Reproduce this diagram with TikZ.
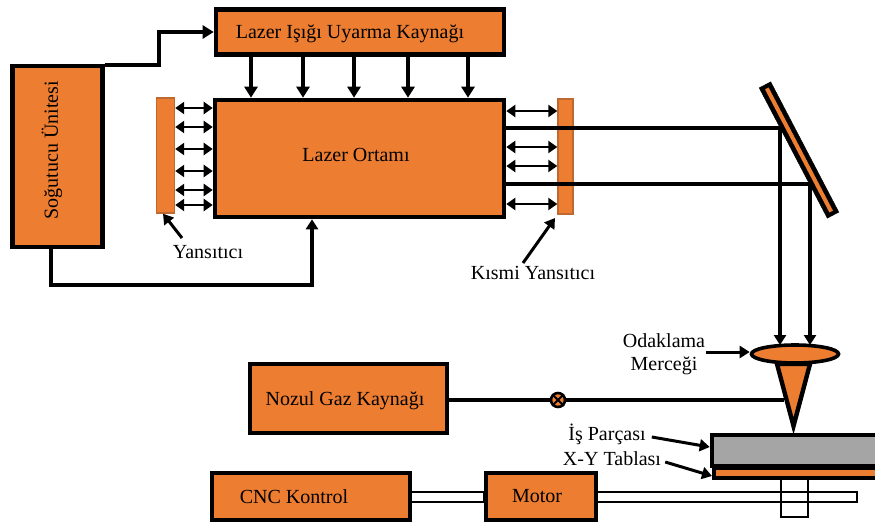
\documentclass[tikz,border=0pt]{standalone}
\usepackage{fontspec}
\setmainfont{Liberation Serif}
\definecolor{lazerturuncu}{RGB}{237,125,49}
\definecolor{aynakenar}{RGB}{190,105,50}
\definecolor{parcagri}{RGB}{165,165,165}
\usetikzlibrary{arrows.meta,positioning,shapes.geometric,calc}
\tikzset{
  yazi/.style={font=\fontsize{20}{23}\selectfont,inner sep=1pt,align=center},
  kutu/.style={draw=black,fill=lazerturuncu,line width=4.6pt,inner sep=0pt,yazi},
  ayna/.style={draw=aynakenar,fill=lazerturuncu,line width=1.4pt,inner sep=0pt},
  kalinok/.style={line width=4pt,-{Triangle[length=11pt,width=13pt]}},
  cifok/.style={line width=2.3pt,{Triangle[length=9pt,width=12pt]}-{Triangle[length=9pt,width=12pt]}},
  isin/.style={line width=3.15pt},
  ok/.style={line width=3pt,-{Triangle[length=10pt,width=12pt]}},
  mil/.style={draw=black,line width=2pt}
}
\begin{document}
\begin{tikzpicture}[x=1pt,y=-1pt]
  \clip (0,0) rectangle (875,523);
  % kutular
  \node[kutu,minimum width=90pt,minimum height=181pt] (sogutucu) at (57.5,156.5) {};
  \node[yazi,rotate=90] (sogutucuyazi) at (52,150) {Soğutucu Ünitesi};
  \node[kutu,minimum width=288pt,minimum height=45pt,text depth=0pt] (kaynak) at (360,32) {Lazer Işığı Uyarma Kaynağı\hspace*{20pt}};
  \node[kutu,minimum width=289pt,minimum height=117pt,text depth=7pt] (ortam) at (359.5,158.5) {Lazer Ortamı\hspace*{7pt}};
  \node[kutu,minimum width=197pt,minimum height=69pt,text depth=0pt] (nozul) at (348.5,398.5) {Nozul Gaz Kaynağı\hspace*{7pt}};
  \node[ayna,minimum width=18pt,minimum height=115pt] (solayna) at (165.5,155.5) {};
  \node[ayna,minimum width=15pt,minimum height=115pt] (sagayna) at (565.5,156.5) {};
  % mil
  \node[mil,fill=white,minimum width=261pt,minimum height=10pt] (motormil) at (726.5,497) {};
  \node[mil,minimum width=27pt,minimum height=38pt] (dikmil) at (794.5,498) {};
  \node[mil,fill=white,minimum width=74pt,minimum height=10pt] (cncmil) at (447,497) {};
  \node[kutu,minimum width=198pt,minimum height=47pt] (cnc) at (311,496.5) {CNC Kontrol\hspace*{34pt}};
  \node[kutu,minimum width=110pt,minimum height=47pt] (motor) at (541,496.5) {Motor\hspace*{8pt}};
  % is parcasi ve tabla
  \node[draw=black,fill=parcagri,line width=4.6pt,minimum width=178pt,minimum height=31pt] (parca) at (801,450.5) {};
  \node[draw=black,fill=lazerturuncu,line width=4pt,minimum width=172pt,minimum height=10pt] (tabla) at (800,473) {};
  % uyarma oklari
  \foreach \px in {251,303,354,408,468}
    \draw[kalinok] (kaynak.south -| \px,0) -- (ortam.north -| \px,0);
  \coordinate (kirilma) at (159,65);
  \draw[line width=3.4pt,-{Triangle[length=11pt,width=13pt]},line join=miter] (sogutucu.north east |- kirilma) -- (kirilma) -- (kirilma |- kaynak.west) -- (kaynak.west);
  \coordinate (altkose) at (51,285);
  \draw[isin,-{Triangle[length=10pt,width=12pt]}] (sogutucu.south -| altkose) -- (altkose) -- (altkose -| 312,0) -- (ortam.south -| 312,0);
  % ayna oklari
  \foreach \py in {108,127,149,171,190,205}
    \draw[cifok] (solayna.east |- 0,\py) -- (ortam.west |- 0,\py);
  \foreach \py in {111,147,166,204}
    \draw[cifok] (ortam.east |- 0,\py) -- (sagayna.west |- 0,\py);
  % lazer isini
  \coordinate (yansima1) at (780,128);
  \coordinate (yansima2) at (810,184);
  \draw[isin] (ortam.east |- yansima1) -- (yansima1);
  \draw[isin] (ortam.east |- yansima2) -- (yansima2);
  \draw[isin,-{Triangle[length=10pt,width=12pt]}] (yansima1) -- (780,345);
  \draw[isin,-{Triangle[length=10pt,width=12pt]}] (yansima2) -- (810,345);
  \node[draw=black,fill=black,minimum width=147pt,minimum height=13pt,inner sep=0pt,rotate=-62.4] (egikayna) at (799,150) {};
  \node[fill=lazerturuncu,minimum width=139pt,minimum height=4pt,inner sep=0pt,rotate=-62.4] (egikaynaic) at (799,150) {};
  % mercek ve nozul
  \draw[draw=black,fill=lazerturuncu,line width=4.4pt,line join=miter] (777,364) -- (810,364) -- (793.5,426) -- cycle;
  \node[draw=black,fill=lazerturuncu,ellipse,line width=3.6pt,minimum width=87pt,minimum height=18pt,inner sep=0pt] (mercek) at (795,354) {};
  \coordinate (nozuluc) at (784,400);
  \draw[isin] (nozul.east |- nozuluc) -- (nozuluc);
  \node[circle,draw=black,fill=lazerturuncu,line width=2.6pt,minimum size=14pt,inner sep=0pt] (vana) at (558,400) {};
  \draw[line width=1.8pt] (vana.north west) -- (vana.south east) (vana.north east) -- (vana.south west);
  % etiketler
  \node[yazi] (yansitici) at (208,252) {Yansıtıcı};
  \node[yazi] (kismi) at (533,273) {Kısmi Yansıtıcı};
  \node[yazi] (odaklama) at (664,354) {Odaklama\\Merceği};
  \node[yazi] (isparcasi) at (607,434) {İş Parçası};
  \node[yazi] (xytabla) at (612,459) {X-Y Tablası};
  \coordinate (yansiticiok) at (182,238);
  \coordinate (kismiok) at (523,263);
  \draw[ok] (yansiticiok) -- (solayna.south -| 163,0);
  \draw[ok] (kismiok) -- (555,218);
  \draw[ok] (odaklama.east |- 0,352) -- (mercek.west |- 0,352);
  \draw[ok] ([xshift=5pt,yshift=-3pt]isparcasi.east) -- (parca.west |- 0,447);
  \draw[ok] ([xshift=3pt,yshift=-3pt]xytabla.east) -- (tabla.west |- 0,476);
\end{tikzpicture}
\end{document}
